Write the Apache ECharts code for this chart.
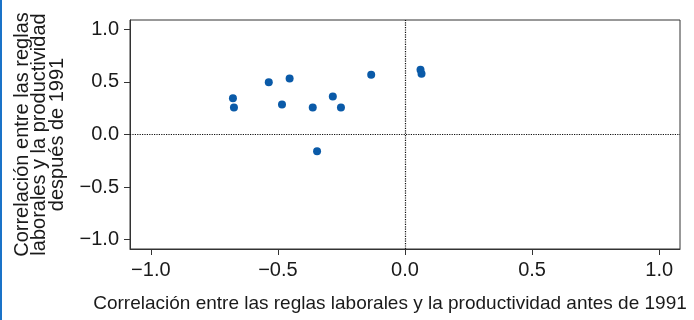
<!DOCTYPE html>
<html>
<head>
<meta charset="utf-8">
<script src="https://cdn.jsdelivr.net/npm/echarts@6/dist/echarts.min.js"></script>
<style>
html,body{margin:0;padding:0;background:#fff;}
#wrap{position:relative;width:694px;height:320px;}
#bar{position:absolute;left:0;top:0;width:2px;height:320px;background:#1a73c8;}
#chart{position:absolute;left:0;top:0;width:694px;height:320px;}
</style>
</head>
<body>
<div id="wrap"><div id="chart"></div><div id="bar"></div></div>
<script>
const xTitle = 'Correlación entre las reglas laborales y la productividad antes de 1991';
const yTitle = 'Correlación entre las reglas\nlaborales y la productividad\ndespués de 1991';
const xBefore = [-0.677, -0.673, -0.536, -0.454, -0.484, -0.363, -0.284, -0.252, -0.133, 0.061, 0.065, -0.346];
const yAfter  = [0.346, 0.257, 0.498, 0.533, 0.286, 0.257, 0.362, 0.257, 0.568, 0.616, 0.578, -0.159];
const tickValues = [-1.0, -0.5, 0.0, 0.5, 1.0];

const fontFam = 'Liberation Sans';
const fmt = v => {
  const m = tickValues.find(t => Math.abs(t - v) < 1e-9);
  if (m === undefined) return '';
  return (m < 0 ? '\u2212' : '') + Math.abs(m).toFixed(1);
};

const chart = echarts.init(document.getElementById('chart'), null, {renderer:'canvas'});
chart.setOption({
  animation:false,
  backgroundColor:'#fff',
  grid:{left:130, right:14, top:20, bottom:71, show:true, borderColor:'#333', borderWidth:1},
  xAxis:{
    type:'value', min:-1.082, max:1.082,
    interval:0.5,
    name:xTitle, nameLocation:'middle', nameGap:45,
    nameTextStyle:{fontFamily:fontFam, fontSize:19, color:'#1a1a1a', padding:[0,30,0,0]},
    axisLine:{show:true, onZero:false, lineStyle:{color:'#333'}},
    axisTick:{show:true, length:6, lineStyle:{color:'#333'}, customValues:tickValues},
    axisLabel:{fontFamily:fontFam, fontSize:20, color:'#1a1a1a', margin:11, formatter:fmt, customValues:tickValues},
    splitLine:{show:false}
  },
  yAxis:{
    type:'value', min:-1.09, max:1.09,
    name:yTitle, nameLocation:'middle', nameGap:64, nameRotate:90,
    nameTextStyle:{fontFamily:fontFam, fontSize:20, color:'#1a1a1a', lineHeight:17.5, align:'center'},
    axisLine:{show:true, onZero:false, lineStyle:{color:'#333'}},
    axisTick:{show:true, length:6, lineStyle:{color:'#333'}, customValues:tickValues},
    axisLabel:{fontFamily:fontFam, fontSize:20, color:'#1a1a1a', margin:11, formatter:fmt, customValues:tickValues},
    splitLine:{show:false}
  },
  series:[{
    type:'scatter',
    data:xBefore.map((x,i)=>[x, yAfter[i]]),
    symbolSize:8,
    itemStyle:{color:'#0a5aa8', opacity:1},
    markLine:{
      silent:true, symbol:'none', label:{show:false},
      lineStyle:{type:'dotted', color:'#111', width:1.2},
      data:[{xAxis:0},{yAxis:0}]
    }
  }]
});
</script>
</body>
</html>
